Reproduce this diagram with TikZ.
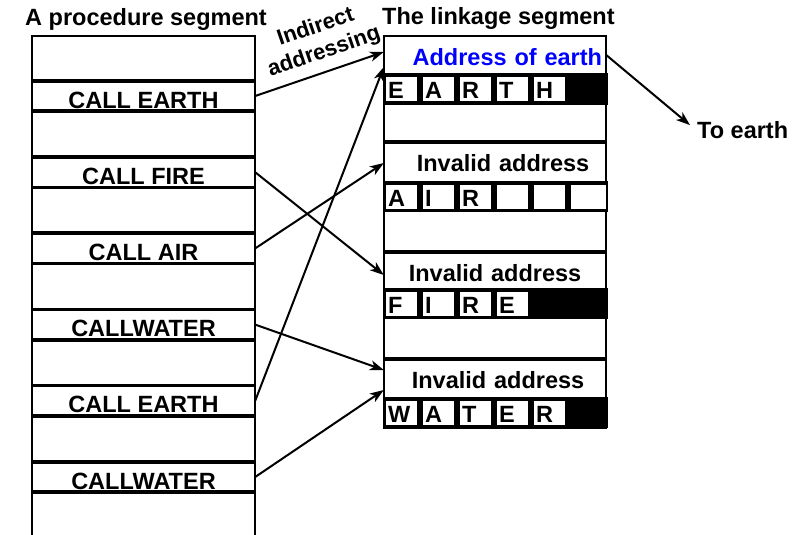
\documentclass[tikz,border=0pt]{standalone}
\usepackage{fontspec}
\setmainfont{Liberation Sans}
\usetikzlibrary{arrows.meta}
\definecolor{addrblue}{RGB}{0,0,255}
\begin{document}
\begin{tikzpicture}[x=1pt,y=-1pt,
  txt/.style={font=\fontsize{23.5}{28}\selectfont\bfseries},
  callcell/.style={txt, minimum width=223pt, minimum height=30pt, inner sep=0pt, text height=24pt, text depth=0pt},
  sepline/.style={line width=3.5pt},
  border/.style={line width=2pt},
  trow/.style={txt, minimum height=38pt, inner ysep=0pt, inner xsep=4pt, text width=214pt, text height=21pt, text depth=0pt},
  lrow/.style={fill=black, draw=none, minimum width=225pt, inner sep=0pt},
  lcell/.style={txt, fill=white, anchor=west, minimum height=24pt, inner ysep=0pt, inner xsep=2pt, text width=27pt, align=left, text height=19pt, text depth=0pt},
  arr/.style={line width=2pt, -{Stealth[length=14pt,width=10pt,inset=4pt]}}
]
\useasboundingbox (0,0) rectangle (800,535);

% headers
\node[txt, anchor=base west, inner sep=0pt] (h1) at (25,26) {A procedure segment};
\node[txt, anchor=base west, inner sep=0pt] (h2) at (382,25) {The linkage segment};

% left column
\draw[border] (32,540) -- (32,36) -- (255,36) -- (255,540);
\foreach \i/\t in {1/{CALL EARTH},2/{CALL FIRE},3/{CALL AIR},4/{CALLWATER},5/{CALL EARTH},6/{CALLWATER}} {
  \node[callcell] (c\i) at (143.5,{96+76.2*(\i-1)}) {\t};
  \draw[sepline] (c\i.north west) -- (c\i.north east) (c\i.south west) -- (c\i.south east);
}

% right column
\draw[border] (384,36) rectangle (606,428);
\node[trow, align=right, text=addrblue] (t1) at (495,55) {Address of earth};
\node[trow, align=center] (t2) at (495,161) {\hspace*{16pt}Invalid address};
\node[trow, align=center] (t3) at (495,271) {Invalid address};
\node[trow, align=center] (t4) at (495,378) {\hspace*{6pt}Invalid address};
\foreach \k in {2,3,4} {
  \draw[sepline] (t\k.north west) -- (t\k.north east);
}

\node[lrow, minimum height=32pt] (L1) at (495.5,89) {};
\node[lrow, minimum height=31pt] (L2) at (495.5,196.5) {};
\node[lrow, minimum height=31pt] (L3) at (495.5,303.5) {};
\node[lrow, minimum height=31pt] (L4) at (495.5,412.5) {};

\foreach \i/\l in {1/E,2/A,3/R,4/T,5/H} {
  \node[lcell] (a\i) at ({386+37*(\i-1)},89) {\l};
}
\foreach \i/\l in {1/A,2/I,3/R,4/{},5/{}} {
  \node[lcell] (b\i) at ({386+37*(\i-1)},196.5) {\l};
}
\node[lcell, text width=31pt] (b6) at (571,196.5) {};
\foreach \i/\l in {1/F,2/I,3/R,4/E} {
  \node[lcell] (f\i) at ({386+37*(\i-1)},303.5) {\l};
}
\foreach \i/\l in {1/W,2/A,3/T,4/E,5/R} {
  \node[lcell] (w\i) at ({386+37*(\i-1)},412.5) {\l};
}

% indirect addressing label
\node[rotate=19, align=center, inner sep=0pt, font=\fontsize{22}{26}\selectfont\bfseries] (ind) at (320,40) {Indirect\\addressing};

% to earth
\node[txt, anchor=base west, inner sep=0pt] (te) at (697,138) {To earth};
\draw[arr] (t1.east) -- ([xshift=-7pt,yshift=4.5pt]te.west);

% arrows
\draw[arr] (c1.east) -- ([yshift=3pt]t1.west);
\draw[arr] (c5.east) -- ([yshift=-12pt]t1.west);
\draw[arr] (c3.east) -- ([yshift=-2pt]t2.west);
\draw[arr] (c2.east) -- ([yshift=-4pt]t3.west);
\draw[arr] (c4.east) -- ([yshift=8pt]t4.west);
\draw[arr] (c6.east) -- ([yshift=-12pt]t4.west);
\end{tikzpicture}
\end{document}
